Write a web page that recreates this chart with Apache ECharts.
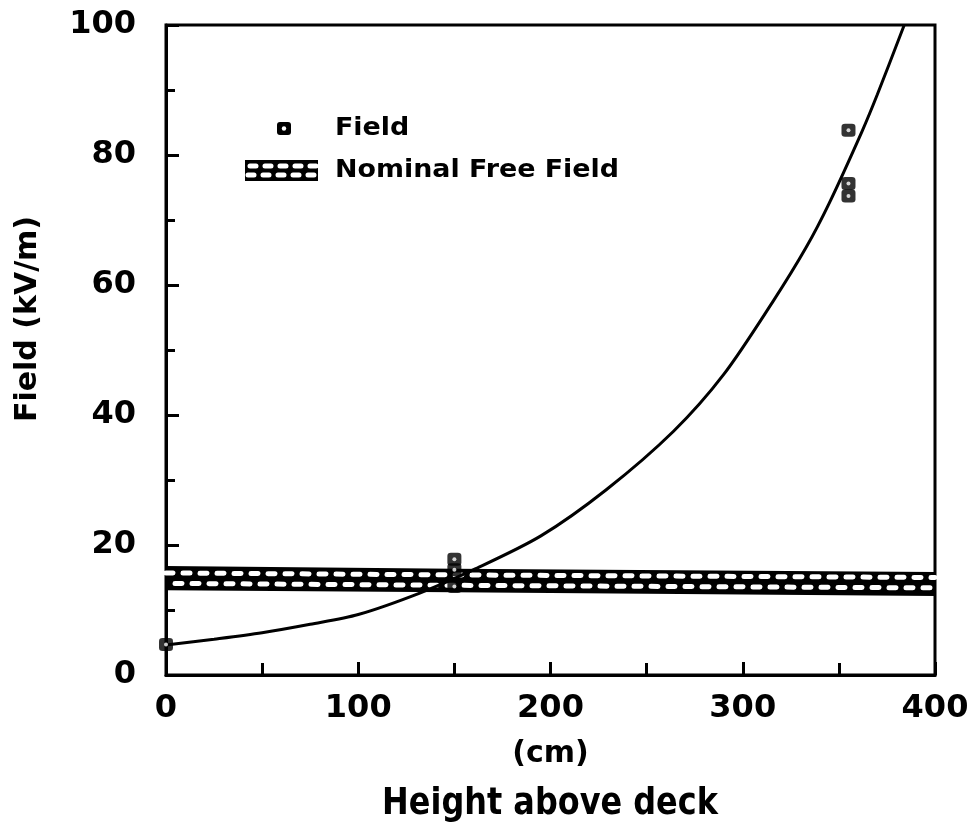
<!DOCTYPE html>
<html>
<head>
<meta charset="utf-8">
<script src="https://cdn.jsdelivr.net/npm/echarts@6/dist/echarts.min.js"></script>
<style>html,body{margin:0;padding:0;background:#fff}#c{width:980px;height:828px}</style>
</head>
<body>
<div id="c"></div>
<script>
// Measured field points (height cm, field kV/m)
const fieldX = [0, 150, 150, 150, 355, 355, 355];
const fieldY = [4.7, 17.8, 16.2, 13.6, 83.8, 75.6, 73.7];
// Fitted curve
const curveX = [0, 25, 50, 75, 100, 132, 160, 195, 229, 264, 290, 316, 333, 345, 362, 370, 384];
const curveY = [4.6, 5.5, 6.5, 7.8, 9.3, 12.6, 16.2, 21.4, 28.5, 37.5, 46.2, 57.6, 65.8, 72.6, 83.6, 89.3, 100];
// Nominal free field band (lower / upper edges)
const bandX = [0, 150, 400];
const bandLow = [13.2, 12.9, 12.3];
const bandHigh = [16.6, 16.2, 15.7];
// rows of white hatching inside the band
const bandRowA = [15.7, 15.4, 15.0];
const bandRowB = [14.1, 13.8, 13.4];
// Axis ticks
const xTicks = [0, 100, 200, 300, 400];
const yTicks = [0, 20, 40, 60, 80, 100];

const FONT = 'DejaVu Sans';
const pair = (xs, ys) => xs.map((x, i) => [x, ys[i]]);

const chart = echarts.init(document.getElementById('c'), null, {renderer: 'canvas'});
const axisCommon = {
  axisLine: {show: true, lineStyle: {color: '#000', width: 3}},
  axisTick: {show: true, inside: true, length: 13, lineStyle: {color: '#000', width: 3}},
  minorTick: {show: true, splitNumber: 2, length: 12, lineStyle: {color: '#000', width: 3}},
  splitLine: {show: false},
  axisLabel: {color: '#000', fontFamily: FONT, fontWeight: 'bold', fontSize: 32}
};
chart.setOption({
  animation: false,
  backgroundColor: '#fff',
  grid: {left: 166, right: 45, top: 25, bottom: 153, show: true, borderColor: '#000', borderWidth: 3},
  xAxis: Object.assign({}, axisCommon, {
    type: 'value', min: xTicks[0], max: xTicks[xTicks.length - 1], interval: 100,
    axisLabel: Object.assign({}, axisCommon.axisLabel, {margin: 18}),
    name: '(cm)', nameLocation: 'middle', nameGap: 64,
    nameTextStyle: {color: '#000', fontFamily: FONT, fontWeight: 'bold', fontSize: 30}
  }),
  yAxis: Object.assign({}, axisCommon, {
    type: 'value', min: yTicks[0], max: yTicks[yTicks.length - 1], interval: 20,
    minorTick: {show: true, splitNumber: 2, length: 9, lineStyle: {color: '#000', width: 3}},
    axisLabel: Object.assign({}, axisCommon.axisLabel, {margin: 30})
  }),
  graphic: [
    {type: 'text', x: 550, y: 804, scaleX: 0.84, style: {text: 'Height above deck', fill: '#000', font: 'bold 38px "' + FONT + '"', textAlign: 'center', textVerticalAlign: 'middle'}},
    {type: 'text', x: 28, y: 319, rotation: Math.PI / 2, style: {text: 'Field (kV/m)', fill: '#000', font: 'bold 30px "' + FONT + '"', textAlign: 'center', textVerticalAlign: 'middle'}},
    // legend
    {type: 'rect', z: 10, shape: {x: 277, y: 122, width: 14, height: 13, r: 3}, style: {fill: '#000'}},
    {type: 'circle', z: 11, shape: {cx: 284, cy: 128.5, r: 2.2}, style: {fill: '#fff'}},
    {type: 'text', z: 10, x: 335, y: 129, scaleX: 1.12, style: {text: 'Field', fill: '#000', font: 'bold 24px "' + FONT + '"', textVerticalAlign: 'middle'}},
    {type: 'rect', z: 10, shape: {x: 245, y: 160, width: 73, height: 21}, style: {fill: '#000'}},
    {type: 'line', z: 11, shape: {x1: 250, y1: 166, x2: 318, y2: 166}, style: {stroke: '#fff', lineWidth: 5, lineDash: [6, 9], lineCap: 'round'}},
    {type: 'line', z: 11, shape: {x1: 248, y1: 175, x2: 316, y2: 175}, style: {stroke: '#fff', lineWidth: 5, lineDash: [6, 9], lineCap: 'round'}},
    {type: 'text', z: 10, x: 335, y: 171, scaleX: 1.12, style: {text: 'Nominal Free Field', fill: '#000', font: 'bold 24px "' + FONT + '"', textVerticalAlign: 'middle'}}
  ],
  series: [
    {type: 'custom', name: 'Nominal Free Field', data: pair(bandX, bandLow), z: 2,
     encode: {x: 0, y: 1},
     renderItem: function (params, api) {
       if (params.dataIndex !== 0) return null;
       const pts = [];
       for (let i = 0; i < bandX.length; i++) pts.push(api.coord([bandX[i], bandHigh[i]]));
       for (let i = bandX.length - 1; i >= 0; i--) pts.push(api.coord([bandX[i], bandLow[i]]));
       return {type: 'polygon', shape: {points: pts}, style: {fill: '#000', stroke: '#000', lineWidth: 2}};
     }},
    {type: 'line', data: pair(bandX, bandRowA), symbol: 'none', z: 3,
     lineStyle: {color: '#fff', width: 5, type: [7, 10], dashOffset: 0, cap: 'round'}},
    {type: 'line', data: pair(bandX, bandRowB), symbol: 'none', z: 3,
     lineStyle: {color: '#fff', width: 5, type: [7, 10], dashOffset: 8, cap: 'round'}},
    {type: 'line', name: 'curve', data: pair(curveX, curveY), smooth: 0.3, symbol: 'none', z: 4,
     lineStyle: {color: '#000', width: 3}},
    {type: 'scatter', name: 'Field', data: pair(fieldX, fieldY), symbol: 'roundRect', symbolSize: [14, 13], z: 5,
     itemStyle: {color: '#000'}},
    {type: 'scatter', data: pair(fieldX, fieldY), symbol: 'circle', symbolSize: 4, z: 6,
     itemStyle: {color: '#fff'}}
  ]
});
</script>
</body>
</html>
